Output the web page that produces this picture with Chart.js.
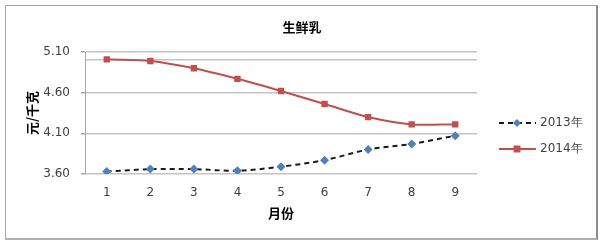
<!DOCTYPE html>
<html>
<head>
<meta charset="utf-8">
<script src="https://cdn.jsdelivr.net/npm/chart.js@4/dist/chart.umd.min.js"></script>
<style>
  body { margin: 0; background: #fff; }
  .caja { position: relative; width: 604px; height: 244px; }
  .marco { position: absolute; left: 5px; top: 5px; width: 590px; height: 232px; border: 1px solid #a6a6a6; border-right: 2px solid #8c8c8c; border-bottom: 2px solid #b0b0b0; pointer-events: none; }
</style>
</head>
<body>
<div class="caja">
  <canvas id="grafico" width="604" height="244"></canvas>
  <div class="marco"></div>
</div>
<script>
// Datos
const meses = ['1', '2', '3', '4', '5', '6', '7', '8', '9'];
const precios2013 = [3.63, 3.66, 3.66, 3.64, 3.69, 3.77, 3.90, 3.97, 4.07];
const precios2014 = [5.01, 4.99, 4.90, 4.77, 4.62, 4.46, 4.30, 4.21, 4.21];
const etiquetasY = [3.6, 4.1, 4.6, 5.1];
const lineaExtra = [5.0];   // línea de rejilla sin etiqueta
const titulo = '生鲜乳';

const fuente = "'DejaVu Sans', sans-serif";
const fuenteCJK = "'Noto Sans CJK SC', sans-serif";
const gris = '#404040';

// Título centrado en todo el lienzo (el plugin de título lo centra sobre el área con padding)
const tituloCentrado = {
    id: 'tituloCentrado',
    afterDraw(chart) {
        const ctx = chart.ctx;
        ctx.save();
        ctx.fillStyle = '#000';
        ctx.font = 'bold 13px ' + fuenteCJK;
        ctx.textAlign = 'center';
        ctx.textBaseline = 'middle';
        ctx.fillText(titulo, 302, 27);
        ctx.restore();
    }
};

// Leyenda dibujada a mano: línea + marcador, como en Excel
const leyendaExcel = {
    id: 'leyendaExcel',
    afterDraw(chart) {
        const ctx = chart.ctx;
        const filas = [123, 149];
        chart.data.datasets.forEach((ds, i) => {
            const y = filas[i];
            ctx.save();
            ctx.strokeStyle = ds.borderColor;
            ctx.lineWidth = ds.borderWidth;
            ctx.setLineDash(ds.borderDash || []);
            ctx.beginPath();
            ctx.moveTo(499, y);
            ctx.lineTo(536, y);
            ctx.stroke();
            ctx.setLineDash([]);
            ctx.fillStyle = ds.pointBackgroundColor;
            const cx = 517, r = 4;
            ctx.beginPath();
            if (ds.pointStyle === 'rectRot') {
                ctx.moveTo(cx, y - r); ctx.lineTo(cx + r, y); ctx.lineTo(cx, y + r); ctx.lineTo(cx - r, y);
            } else {
                ctx.rect(cx - 3.5, y - 3.5, 7, 7);
            }
            ctx.closePath();
            ctx.fill();
            ctx.fillStyle = gris;
            ctx.font = '12px ' + fuente;
            ctx.textBaseline = 'middle';
            ctx.textAlign = 'left';
            ctx.fillText(ds.label, 540, y);
            ctx.restore();
        });
    }
};

new Chart(document.getElementById('grafico'), {
    type: 'line',
    data: {
        labels: meses,
        datasets: [{
            label: '2013年',
            data: precios2013,
            borderColor: '#1a1a1a',
            borderWidth: 2,
            borderDash: [5, 4],
            pointStyle: 'rectRot',
            pointRadius: 4.5,
            pointBackgroundColor: '#4f81bd',
            pointBorderColor: '#4f81bd',
            pointBorderWidth: 0,
            tension: 0.3
        }, {
            label: '2014年',
            data: precios2014,
            borderColor: '#c0504d',
            borderWidth: 2,
            pointStyle: 'rect',
            pointRadius: 4.5,
            pointBackgroundColor: '#c0504d',
            pointBorderColor: '#c0504d',
            pointBorderWidth: 0,
            tension: 0.3
        }]
    },
    options: {
        responsive: false,
        animation: false,
        layout: { padding: { left: 20, right: 127, top: 52, bottom: 0 } },
        plugins: {
            legend: { display: false },
            tooltip: { enabled: false },
            title: { display: false }
        },
        scales: {
            x: {
                offset: true,
                grid: { display: false, drawTicks: false },
                border: { display: false },
                ticks: { color: gris, font: { family: fuente, size: 12 }, padding: 12 },
                title: {
                    display: true, text: '月份', color: '#000',
                    font: { family: fuenteCJK, size: 13, weight: 'bold' },
                    padding: { top: 0, bottom: 23 }
                },
                afterFit(scale) { scale.height = 70; }
            },
            y: {
                min: 3.6,
                max: 5.1,
                afterBuildTicks(scale) {
                    scale.ticks = etiquetasY.concat(lineaExtra).sort().map(v => ({ value: v }));
                },
                grid: {
                    color: '#c4c4c4',
                    lineWidth: 1.5,
                    tickLength: 4,
                    tickColor: ctx => lineaExtra.includes(ctx.tick.value) ? 'rgba(0,0,0,0)' : '#a6a6a6'
                },
                border: { display: true, color: '#a6a6a6', width: 1 },
                ticks: {
                    color: gris,
                    font: { family: fuente, size: 12 },
                    padding: 11,
                    autoSkip: false,
                    callback: v => lineaExtra.includes(v) ? '' : v.toFixed(2)
                },
                title: {
                    display: true, text: '元/千克', color: '#000',
                    font: { family: fuenteCJK, size: 13, weight: 'bold' },
                    padding: { top: 4, bottom: 0 }
                },
                afterFit(scale) { scale.width = 65; }
            }
        }
    },
    plugins: [tituloCentrado, leyendaExcel]
});
</script>
</body>
</html>
